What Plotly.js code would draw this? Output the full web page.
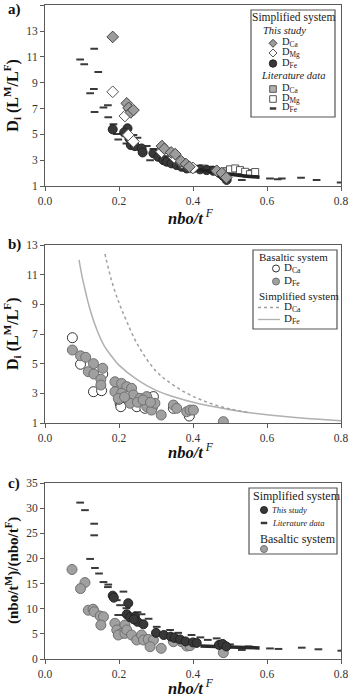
<!DOCTYPE html>
<html>
<head>
<meta charset="utf-8">
<script src="https://cdn.plot.ly/plotly-3.0.1.min.js"></script>
<style>
  html, body { margin: 0; padding: 0; background: #fff; }
  #chart { width: 350px; height: 699px; }
</style>
</head>
<body>
<div id="chart"></div>
<script>
// ---- Panel a: partition coefficients, simplified system ----
const aThisCaX = [0.183, 0.221, 0.226, 0.232, 0.239, 0.316, 0.323, 0.341, 0.352, 0.368, 0.381, 0.390, 0.464, 0.478, 0.490];
const aThisCaY = [12.55, 7.40, 7.05, 6.70, 6.88, 4.09, 3.88, 3.60, 3.47, 2.93, 2.70, 2.49, 2.18, 2.00, 1.65];
const aThisMgX = [0.183, 0.216, 0.225, 0.239, 0.315, 0.349, 0.370, 0.400];
const aThisMgY = [8.30, 6.42, 4.95, 4.45, 3.65, 3.22, 2.80, 2.40];
const aThisFeX = [0.183, 0.223, 0.214, 0.228, 0.239, 0.232, 0.243, 0.261, 0.264, 0.293, 0.306, 0.320, 0.329, 0.342, 0.356, 0.369, 0.383, 0.400, 0.419, 0.437, 0.455, 0.473, 0.482, 0.491];
const aThisFeY = [5.39, 5.47, 5.15, 4.69, 4.43, 4.17, 4.09, 3.91, 3.60, 3.53, 3.26, 3.00, 2.88, 2.75, 2.62, 2.49, 2.36, 2.36, 2.29, 2.23, 2.18, 1.98, 1.77, 1.47];
const aFeBandX = [0.41, 0.45, 0.50, 0.54, 0.58];
const aFeBandY = [2.30, 2.10, 1.90, 1.78, 1.67];
const aLitCaX = [0.370, 0.430, 0.490, 0.515, 0.530, 0.545, 0.560];
const aLitCaY = [2.70, 2.35, 2.15, 2.25, 2.05, 1.95, 2.00];
const aLitMgX = [0.500, 0.514, 0.527, 0.541, 0.554, 0.568];
const aLitMgY = [2.29, 2.36, 2.23, 2.10, 1.92, 2.08];
const aLitFeX = [0.095, 0.106, 0.133, 0.144, 0.132, 0.122, 0.134, 0.158, 0.170, 0.171, 0.185, 0.194, 0.198, 0.239, 0.250, 0.275, 0.293, 0.314, 0.284, 0.360, 0.356, 0.419, 0.446, 0.464, 0.532, 0.608, 0.629, 0.640, 0.692, 0.734, 0.799, 0.220, 0.260, 0.330, 0.390, 0.500];
const aLitFeY = [10.81, 10.43, 11.64, 9.83, 8.51, 8.18, 6.73, 7.09, 7.25, 6.32, 5.78, 5.02, 4.61, 4.95, 4.74, 4.09, 3.86, 3.91, 3.00, 3.00, 2.54, 2.57, 2.49, 2.36, 1.46, 1.59, 1.53, 1.59, 1.64, 1.46, 1.28, 4.30, 3.95, 3.30, 2.65, 2.00];

// ---- Panel b: basaltic system and simplified-system curves ----
const bBasCaX = [0.074, 0.096, 0.156, 0.131, 0.153, 0.203, 0.205, 0.248, 0.293, 0.270, 0.347, 0.390, 0.200, 0.230, 0.290];
const bBasCaY = [6.75, 4.96, 4.30, 3.11, 3.18, 2.33, 2.10, 2.10, 2.78, 1.99, 1.99, 1.47, 2.60, 2.50, 2.05];
const bBasFeX = [0.074, 0.096, 0.110, 0.131, 0.117, 0.132, 0.156, 0.151, 0.151, 0.189, 0.207, 0.221, 0.234, 0.189, 0.207, 0.239, 0.198, 0.230, 0.257, 0.275, 0.275, 0.288, 0.297, 0.314, 0.347, 0.356, 0.383, 0.392, 0.401, 0.482, 0.215, 0.250, 0.265, 0.285];
const bBasFeY = [5.92, 5.53, 5.43, 5.00, 4.46, 4.30, 4.69, 3.95, 3.56, 3.78, 3.67, 3.45, 3.34, 3.11, 3.00, 2.89, 2.66, 2.33, 2.66, 2.78, 2.10, 1.87, 2.33, 1.54, 2.21, 1.99, 1.76, 1.87, 1.87, 1.09, 2.75, 2.40, 2.55, 2.40];
const bSimFeX = [0.092, 0.10, 0.11, 0.12, 0.14, 0.16, 0.18, 0.20, 0.25, 0.30, 0.35, 0.40, 0.50, 0.60, 0.70, 0.80];
const bSimFeY = [12.0, 10.9, 9.8, 8.8, 7.3, 6.2, 5.5, 4.9, 3.9, 3.2, 2.75, 2.4, 1.9, 1.55, 1.32, 1.15];
const bSimCaX = [0.162, 0.18, 0.20, 0.22, 0.25, 0.30, 0.35, 0.40, 0.45, 0.50, 0.55];
const bSimCaY = [12.4, 10.6, 9.1, 7.9, 6.3, 4.5, 3.5, 2.8, 2.3, 1.95, 1.7];

// ---- Panel c: nbo/t ratio of melt to fluid ----
const cLitX = [0.095, 0.108, 0.133, 0.133, 0.122, 0.135, 0.146, 0.158, 0.171, 0.170, 0.212, 0.194, 0.203, 0.198, 0.261, 0.302, 0.338, 0.396, 0.464, 0.532, 0.608, 0.631, 0.694, 0.739, 0.801, 0.220, 0.250, 0.280, 0.360, 0.420, 0.440, 0.500, 0.550];
const cLitY = [31.1, 29.6, 26.9, 24.6, 19.9, 18.1, 17.0, 15.3, 14.8, 14.3, 13.4, 11.7, 10.7, 8.75, 8.9, 6.4, 5.77, 4.77, 4.1, 1.8, 2.1, 2.0, 2.25, 1.93, 1.65, 10.1, 9.3, 8.0, 5.2, 4.3, 3.8, 2.9, 2.5];
const cThisX = [0.183, 0.186, 0.225, 0.221, 0.230, 0.243, 0.250, 0.266, 0.300, 0.321, 0.340, 0.350, 0.365, 0.380, 0.400, 0.410, 0.470, 0.480, 0.490, 0.240];
const cThisY = [12.6, 12.2, 11.1, 8.9, 8.3, 8.4, 7.4, 6.9, 5.2, 4.77, 4.45, 4.2, 3.9, 3.5, 3.3, 3.2, 2.8, 3.0, 2.5, 7.9];
const cBandX = [0.42, 0.46, 0.50, 0.54, 0.58];
const cBandY = [2.60, 2.45, 2.35, 2.28, 2.20];
const cBasX = [0.073, 0.108, 0.096, 0.117, 0.130, 0.133, 0.149, 0.158, 0.151, 0.189, 0.216, 0.194, 0.207, 0.198, 0.216, 0.221, 0.234, 0.248, 0.261, 0.266, 0.279, 0.293, 0.284, 0.314, 0.347, 0.369, 0.383, 0.392, 0.482];
const cBasY = [17.8, 15.2, 14.0, 9.7, 9.9, 9.4, 8.55, 8.4, 6.76, 7.1, 6.76, 5.77, 5.1, 4.77, 5.1, 5.77, 4.77, 3.78, 4.77, 3.78, 3.9, 3.78, 2.45, 2.12, 3.44, 3.44, 2.58, 2.65, 1.26];

const xTicks = [0, 0.2, 0.4, 0.6, 0.8];
const aYTicks = [1, 3, 5, 7, 9, 11, 13, 15];
const bYTicks = [1, 3, 5, 7, 9, 11, 13];
const cYTicks = [0, 5, 10, 15, 20, 25, 30, 35];

// ---- styling ----
const SERIF = 'Liberation Serif';
const W = 350, H = 699, ML = 45, MR = 9, PW = W - ML - MR;
const px = v => (v - ML) / PW;       // pixel column -> paper x
const py = v => 1 - v / H;           // pixel row -> paper y

const grayFill = '#9c9c9c', darkFill = '#383838';

const sGrayDiamond = { symbol: 'diamond', size: 9, color: grayFill, line: { color: '#444', width: 1 } };
const sOpenDiamond = { symbol: 'diamond', size: 9, color: '#fff', line: { color: '#555', width: 1 } };
const sDarkCircle = { symbol: 'circle', size: 9, color: darkFill, line: { color: '#222', width: 1 } };
const sGraySquare = { symbol: 'square', size: 7, color: '#b0b0b0', line: { color: '#555', width: 1 } };
const sOpenSquare = { symbol: 'square', size: 7, color: '#fff', line: { color: '#555', width: 1 } };
const sDash = { symbol: 'line-ew', size: 5.5, line: { color: '#3a3a3a', width: 2 } };
const sOpenCircle = { symbol: 'circle', size: 10, color: '#fff', line: { color: '#333', width: 1 } };
const sGrayCircle = { symbol: 'circle', size: 10, color: '#a0a0a0', line: { color: '#707070', width: 1 } };

function pts(x, y, marker, xa, ya) {
  return { x, y, xaxis: xa, yaxis: ya, type: 'scatter', mode: 'markers', marker, showlegend: false, hoverinfo: 'x+y' };
}
function curve(x, y, line, xa, ya) {
  return { x, y, xaxis: xa, yaxis: ya, type: 'scatter', mode: 'lines', line, showlegend: false, hoverinfo: 'x+y' };
}

const traces = [
  // a
  pts(aLitFeX, aLitFeY, sDash, 'x', 'y'),
  pts(aLitCaX, aLitCaY, sGraySquare, 'x', 'y'),
  pts(aLitMgX, aLitMgY, sOpenSquare, 'x', 'y'),
  pts(aThisFeX, aThisFeY, sDarkCircle, 'x', 'y'),
  curve(aFeBandX, aFeBandY, { color: '#222', width: 3.5 }, 'x', 'y'),
  pts(aThisMgX, aThisMgY, sOpenDiamond, 'x', 'y'),
  pts(aThisCaX, aThisCaY, sGrayDiamond, 'x', 'y'),
  // b
  curve(bSimFeX, bSimFeY, { color: '#b0b0b0', width: 1.5, shape: 'spline' }, 'x2', 'y2'),
  curve(bSimCaX, bSimCaY, { color: '#a0a0a0', width: 1.5, dash: 'dot', shape: 'spline' }, 'x2', 'y2'),
  pts(bBasCaX, bBasCaY, sOpenCircle, 'x2', 'y2'),
  pts(bBasFeX, bBasFeY, sGrayCircle, 'x2', 'y2'),
  // c
  pts(cBasX, cBasY, sGrayCircle, 'x3', 'y3'),
  pts(cLitX, cLitY, sDash, 'x3', 'y3'),
  curve(cBandX, cBandY, { color: '#2a2a2a', width: 3.5 }, 'x3', 'y3'),
  pts(cThisX, cThisY, sDarkCircle, 'x3', 'y3')
];

const tickFont = { family: SERIF, size: 11.5, color: '#333' };
function xAxis() {
  return {
    domain: [0, 1], range: [0, 0.8], tickvals: xTicks, tickformat: '.1f',
    showline: true, mirror: true, linecolor: '#5a5a5a', linewidth: 1,
    ticks: 'outside', ticklen: 4, tickcolor: '#5a5a5a', showgrid: false, zeroline: false,
    tickfont: tickFont
  };
}
function yAxis(top, bot, range, vals) {
  return {
    domain: [py(bot), py(top)], range, tickvals: vals,
    showline: true, mirror: true, linecolor: '#5a5a5a', linewidth: 1,
    ticks: 'outside', ticklen: 4, tickcolor: '#5a5a5a', showgrid: false, zeroline: false,
    tickfont: tickFont
  };
}

// plot-area pixel rows for each panel
const A = { top: 5.3, bot: 186 }, B = { top: 245, bot: 423 }, C = { top: 483, bot: 659 };

const ann = [];
function text(t, xp, yp, opts) {
  ann.push(Object.assign({
    text: t, x: px(xp), y: py(yp), xref: 'paper', yref: 'paper',
    showarrow: false, xanchor: 'left', yanchor: 'middle',
    font: { family: SERIF, size: 11, color: '#1a1a1a' }
  }, opts || {}));
}

// panel letters
text('<b>a)</b>', 6, 10, { font: { family: SERIF, size: 15, color: '#111' } });
text('<b>b)</b>', 6, 244, { font: { family: SERIF, size: 15, color: '#111' } });
text('<b>c)</b>', 6, 483, { font: { family: SERIF, size: 15, color: '#111' } });

// axis titles
const xTitle = '<b><i>nbo/t</i></b><i><sup> F</sup></i>';
[217, 451, 687].forEach(r => text(xTitle, 191, r, { xanchor: 'center', font: { family: SERIF, size: 16.5, color: '#111' } }));
const dTitle = '<b>D<sub>i</sub> (L<sup>M</sup>/L<sup>F</sup>)</b>';
text(dTitle, 12, (A.top + A.bot) / 2, { xanchor: 'center', textangle: -90, font: { family: SERIF, size: 16, color: '#111' } });
text(dTitle, 12, (B.top + B.bot) / 2, { xanchor: 'center', textangle: -90, font: { family: SERIF, size: 16, color: '#111' } });
text('<b>(nbo/t<sup>M</sup>)/(nbo/t<sup>F</sup>)</b>', 12, (C.top + C.bot) / 2, { xanchor: 'center', textangle: -90, font: { family: SERIF, size: 15, color: '#111' } });

// ---- legend boxes, glyphs and labels ----
const shapes = [];
function box(x0, y0, x1, y1) {
  shapes.push({ type: 'rect', xref: 'paper', yref: 'paper', x0: px(x0), x1: px(x1), y0: py(y1), y1: py(y0),
    line: { color: '#555', width: 1.2 }, fillcolor: '#fff', layer: 'above' });
}
function glyph(kind, cx, cy, r, fill, stroke, w) {
  const s = { xref: 'paper', yref: 'paper', xsizemode: 'pixel', ysizemode: 'pixel',
    xanchor: px(cx), yanchor: py(cy), fillcolor: fill, line: { color: stroke, width: w == null ? 1 : w }, layer: 'above' };
  if (kind === 'circle') Object.assign(s, { type: 'circle', x0: -r, x1: r, y0: -r, y1: r });
  if (kind === 'square') Object.assign(s, { type: 'rect', x0: -r, x1: r, y0: -r, y1: r });
  if (kind === 'dash') Object.assign(s, { type: 'rect', x0: -3, x1: 3, y0: -1, y1: 1 });
  if (kind === 'diamond') Object.assign(s, { type: 'path', path: `M ${-r} 0 L 0 ${r} L ${r} 0 L 0 ${-r} Z` });
  shapes.push(s);
}
function seg(x0, x1, y, color, dash) {
  shapes.push({ type: 'line', xref: 'paper', yref: 'paper', x0: px(x0), x1: px(x1), y0: py(y), y1: py(y),
    line: { color, width: 1.3, dash: dash || 'solid' }, layer: 'above' });
}
const legFont = s => ({ family: SERIF, size: s, color: '#1a1a1a' });
const legIt = s => ({ family: SERIF, size: s, color: '#222' });

// a
box(251, 10, 335, 117);
text('Simplified system', 293, 18, { xanchor: 'center', font: legFont(11.5) });
text('<i>This study</i>', 261, 30.5, { font: legIt(10.5) });
glyph('diamond', 273, 43.3, 4, grayFill, '#444');
text('D<sub>Ca</sub>', 280, 42.5, { font: legFont(10.5) });
glyph('diamond', 273, 53, 4, '#fff', '#555');
text('D<sub>Mg</sub>', 280, 52.5, { font: legFont(10.5) });
glyph('circle', 273, 63.5, 3.7, darkFill, '#222');
text('D<sub>Fe</sub>', 280, 63, { font: legFont(10.5) });
text('<i>Literature data</i>', 259, 75.5, { font: legIt(10.5) });
glyph('square', 273, 89, 3.3, '#b0b0b0', '#555');
text('D<sub>Ca</sub>', 280, 88.5, { font: legFont(10.5) });
glyph('square', 273, 99, 3.3, '#fff', '#555');
text('D<sub>Mg</sub>', 280, 98, { font: legFont(10.5) });
glyph('dash', 273, 108.5, 0, '#3a3a3a', '#3a3a3a', 0.5);
text('D<sub>Fe</sub>', 280, 107.5, { font: legFont(10.5) });

// b
box(253, 250, 337, 329);
text('Basaltic system', 257, 256.5, { font: legFont(11) });
glyph('circle', 276, 268.5, 3.5, '#fff', '#333');
text('D<sub>Ca</sub>', 282, 268, { font: legFont(11) });
glyph('circle', 276, 281.5, 3.5, '#a0a0a0', '#707070');
text('D<sub>Fe</sub>', 282, 281, { font: legFont(11) });
text('Simplified system', 257, 296, { font: legFont(11) });
seg(258, 280, 307.5, '#a0a0a0', 'dot');
text('D<sub>Ca</sub>', 282, 307, { font: legFont(11) });
seg(258, 280, 319.5, '#b0b0b0');
text('D<sub>Fe</sub>', 282, 319, { font: legFont(11) });

// c
box(249, 488, 337, 554);
text('Simplified system', 251, 495.5, { font: legFont(12) });
glyph('circle', 264, 510, 3.5, darkFill, '#222');
text('<i>This study</i>', 270, 510, { font: legIt(8.5) });
glyph('dash', 264, 523, 0, '#3a3a3a', '#3a3a3a', 0.5);
text('<i>Literature data</i>', 270, 523, { font: legIt(8.5) });
text('Basaltic system', 258, 538.5, { font: legFont(12) });
glyph('circle', 264, 549, 3.5, '#a0a0a0', '#707070');

const layout = {
  width: W, height: H,
  margin: { l: ML, r: MR, t: 0, b: 0, pad: 0 },
  paper_bgcolor: '#fff', plot_bgcolor: '#fff',
  showlegend: false,
  font: { family: SERIF, color: '#222' },
  xaxis: Object.assign(xAxis(), { anchor: 'y' }),
  yaxis: Object.assign(yAxis(A.top, A.bot, [1, 15], aYTicks), { anchor: 'x' }),
  xaxis2: Object.assign(xAxis(), { anchor: 'y2' }),
  yaxis2: Object.assign(yAxis(B.top, B.bot, [1, 13], bYTicks), { anchor: 'x2' }),
  xaxis3: Object.assign(xAxis(), { anchor: 'y3' }),
  yaxis3: Object.assign(yAxis(C.top, C.bot, [0, 35], cYTicks), { anchor: 'x3' }),
  annotations: ann,
  shapes
};

Plotly.newPlot('chart', traces, layout, { displayModeBar: false, staticPlot: true });
</script>
</body>
</html>
